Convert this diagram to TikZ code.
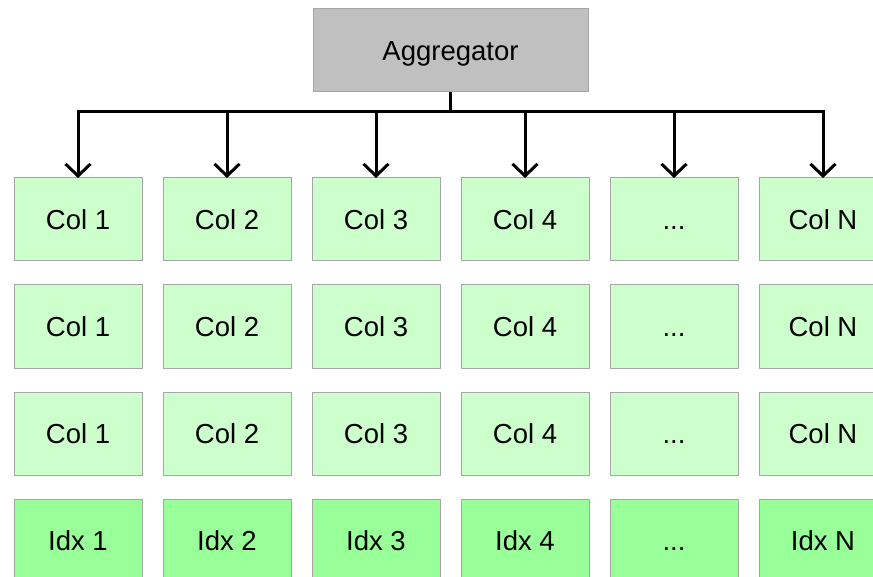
\documentclass[tikz,border=0pt]{standalone}
\usepackage{fontspec}
\setmainfont{Liberation Sans}
\usetikzlibrary{arrows.meta}
\definecolor{cellfill}{HTML}{CCFFCC}
\definecolor{idxfill}{HTML}{99FF99}
\definecolor{aggfill}{HTML}{C0C0C0}
\definecolor{edgegray}{HTML}{A6A6A6}
\newcommand{\morecols}{.{}.{}.}
\tikzset{
  cell/.style={draw=edgegray, line width=1pt, fill=cellfill, minimum width=128pt,
    minimum height=83pt, inner sep=0pt, outer sep=0pt,
    font=\fontsize{27.5}{31}\selectfont, text height=19.7pt, text depth=0pt},
  idxcell/.style={cell, fill=idxfill},
  aggbox/.style={cell, fill=aggfill, draw=edgegray, minimum width=275pt},
  link/.style={line width=3pt, line join=miter, line cap=butt},
  barb/.tip={Straight Barb[length=12pt, width=25pt, line width=3pt]},
  drop/.style={link, -barb},
}
\begin{document}
\begin{tikzpicture}[x=1pt, y=-1pt]
  \useasboundingbox (0,0) rectangle (873,577);
  \clip (0,0) rectangle (873,577);

  % aggregator on top
  \node[aggbox] (agg) at (450.5,50.5) {Aggregator};

  % grid of column stores, last row is the index row
  \foreach \lab [count=\i] in {Col 1,Col 2,Col 3,Col 4,\morecols,Col N} {
    \pgfmathsetmacro{\xc}{78+149*(\i-1)}
    \node[cell] (r1c\i) at (\xc,219.5) {\lab};
    \node[cell] (r2c\i) at (\xc,326.5) {\lab};
    \node[cell] (r3c\i) at (\xc,433.5) {\lab};
  }
  \foreach \lab [count=\i] in {Idx 1,Idx 2,Idx 3,Idx 4,\morecols,Idx N} {
    \pgfmathsetmacro{\xc}{78+149*(\i-1)}
    \node[idxcell] (r4c\i) at (\xc,540.5) {\lab};
  }

  % fan-out from the aggregator to every column
  \coordinate (bus) at (0,112);
  \draw[link] (agg.south) -- (agg.south |- bus);
  \draw[link, barb-barb]
    (r1c1.north) -- (r1c1.north |- bus) -- (r1c6.north |- bus) -- (r1c6.north);
  \foreach \i in {2,...,5} {
    \draw[drop] (r1c\i.north |- bus) -- (r1c\i.north);
  }
\end{tikzpicture}
\end{document}
